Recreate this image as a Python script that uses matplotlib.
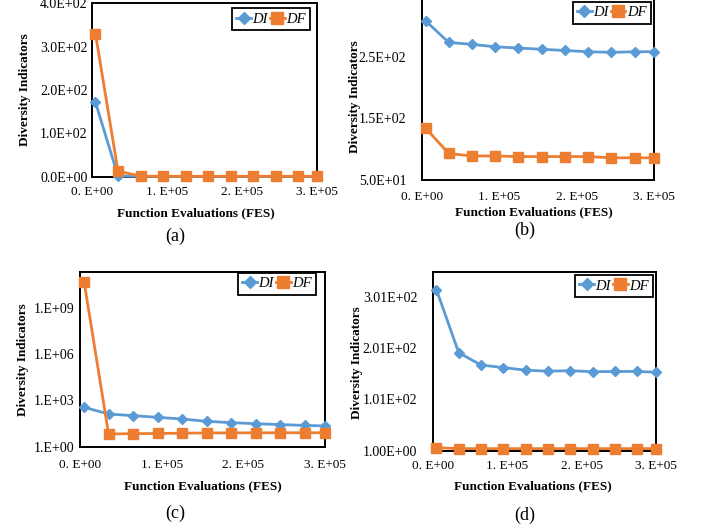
import matplotlib
matplotlib.use("Agg")
import matplotlib.pyplot as plt
import numpy as np

plt.rcParams['font.family'] = ['Liberation Serif', 'DejaVu Serif']

# ---------------- data ----------------
fes = [5000, 35000, 65000, 95000, 125000, 155000, 185000, 215000, 245000, 275000, 300000]

a_DI = [172, 1.5, 0.8, 0.6, 0.5, 0.5, 0.5, 0.5, 0.5, 0.5, 0.5]
a_DF = [330, 13, 1.2, 1.0, 1.0, 1.0, 1.0, 1.0, 1.0, 1.0, 1.0]

b_DI = [308, 273, 270, 266, 264, 262, 260, 258, 257, 258, 258]
b_DF = [134, 93, 89, 89, 88, 88, 88, 88, 86, 86, 86]

c_DI = [355, 131, 102, 80, 62, 44, 36, 31, 27, 24, 22]
c_DF = [4.9e10, 6.6, 7.0, 7.2, 7.5, 7.8, 7.8, 7.9, 8.0, 8.0, 8.0]

d_DI = [315, 192, 168, 163, 158, 156, 157, 155, 155.5, 155.5, 154]
d_DF = [7, 5, 5, 5, 5, 5, 5, 5, 5, 5, 5]

x_ticks = [0, 100000, 200000, 300000]
x_ticklabels = ["0. E+00", "1. E+05", "2. E+05", "3. E+05"]

a_yticks = [0, 100, 200, 300, 400]
a_yticklabels = ["0.0E+00", "1.0E+02", "2.0E+02", "3.0E+02", "4.0E+02"]
b_yticks = [50, 150, 250, 350]
b_yticklabels = ["5.0E+01", "1.5E+02", "2.5E+02", "3.5E+02"]
c_yticks = [1, 1e3, 1e6, 1e9]
c_yticklabels = ["1.E+00", "1.E+03", "1.E+06", "1.E+09"]
d_yticks = [1, 101, 201, 301]
d_yticklabels = ["1.00E+00", "1.01E+02", "2.01E+02", "3.01E+02"]

panel_labels = ["(a)", "(b)", "(c)", "(d)"]
series_names = ["DI", "DF"]
xlabel_text = "Function Evaluations (FES)"
ylabel_text = "Diversity Indicators"

# ---------------- style ----------------
BLUE = "#5B9BD5"
ORANGE = "#ED7D31"
W, H = 712, 529

fig = plt.figure(figsize=(W / 100, H / 100), dpi=100)


def rect(l, t, r, b):
    return [l / W, 1 - b / H, (r - l) / W, (b - t) / H]


def fx(x):
    return x / W


def fy(y):
    return 1 - y / H


panels = [
    dict(rect=rect(91.7, 3.3, 317, 176.7), DI=a_DI, DF=a_DF, yt=a_yticks, ytl=a_yticklabels,
         ylim=(0, 400), log=False, ypad=3, xpad=7,
         leg=(310, 8.3), xl=(196, 213), yl=(25, 90), pl=(175, 236)),
    dict(rect=rect(421.7, -5, 654, 180), DI=b_DI, DF=b_DF, yt=b_yticks, ytl=b_yticklabels,
         ylim=(50, 350), log=False, ypad=11, xpad=8,
         leg=(650.7, 1.7), xl=(534, 212), yl=(355, 97), pl=(525, 230)),
    dict(rect=rect(80, 271.7, 325, 446.7), DI=c_DI, DF=c_DF, yt=c_yticks, ytl=c_yticklabels,
         ylim=(1, 10 ** 11.33), log=True, ypad=4, xpad=9,
         leg=(316, 272.7), xl=(203, 486.7), yl=(23, 360), pl=(175, 513)),
    dict(rect=rect(432.7, 271.7, 656, 450.7), DI=d_DI, DF=d_DF, yt=d_yticks, ytl=d_yticklabels,
         ylim=(1, 350), log=False, ypad=11, xpad=7,
         leg=(653, 275), xl=(533, 486.7), yl=(357, 363), pl=(525, 515)),
]

for i, p in enumerate(panels):
    ax = fig.add_axes(p["rect"])
    if p["log"]:
        ax.set_yscale("log")
    l1, = ax.plot(fes, p["DI"], color=BLUE, lw=2.0, marker="D", ms=5.5,
                  clip_on=False, zorder=3, label=series_names[0])
    l2, = ax.plot(fes, p["DF"], color=ORANGE, lw=2.0, marker="s", ms=7.5,
                  clip_on=False, zorder=4, label=series_names[1])
    ax.set_xlim(0, 300000)
    ax.set_ylim(*p["ylim"])
    ax.set_xticks(x_ticks)
    ax.set_xticklabels(x_ticklabels)
    ax.set_yticks(p["yt"])
    ax.set_yticklabels(p["ytl"])
    ax.minorticks_off()
    ax.tick_params(axis="both", length=0)
    ax.tick_params(axis="y", pad=p["ypad"], labelsize=10)
    ax.tick_params(axis="x", pad=p["xpad"], labelsize=9.5)
    for s in ax.spines.values():
        s.set_linewidth(1.4)
        s.set_color("black")
    ax.set_facecolor("white")

    leg = ax.legend(handles=[l1, l2], ncol=2, loc="upper right",
                    bbox_to_anchor=(fx(p["leg"][0]), fy(p["leg"][1])),
                    bbox_transform=fig.transFigure,
                    prop=dict(family="Liberation Serif", style="italic", size=10.5),
                    frameon=True, fancybox=False, framealpha=1,
                    handlelength=1.0, handletextpad=0.1, columnspacing=0.15,
                    borderpad=0.3, borderaxespad=0, markerscale=1.1)
    leg.get_frame().set_edgecolor("black")
    leg.get_frame().set_linewidth(1.3)

    fig.text(fx(p["xl"][0]), fy(p["xl"][1]), xlabel_text, ha="center", va="center",
             fontsize=9.5, fontweight="bold")
    fig.text(fx(p["yl"][0]), fy(p["yl"][1]), ylabel_text, ha="center", va="center",
             rotation=90, fontsize=9.5, fontweight="bold")
    fig.text(fx(p["pl"][0]), fy(p["pl"][1]), panel_labels[i], ha="center", va="center",
             fontsize=13)

fig.savefig("out.png", dpi=100, facecolor="white")
